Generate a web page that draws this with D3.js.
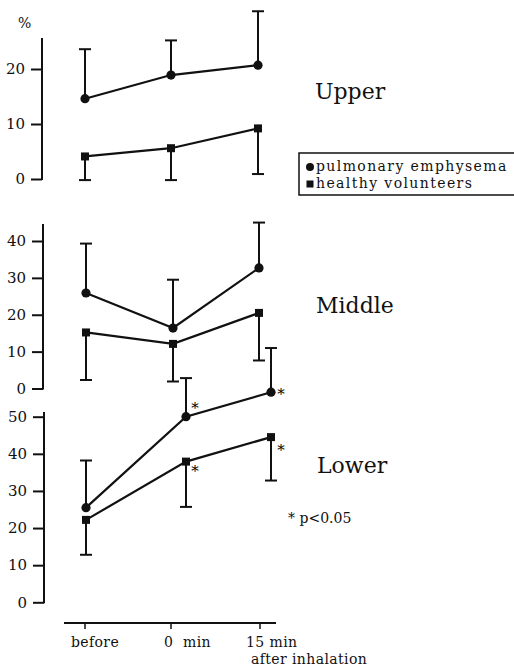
<!DOCTYPE html>
<html>
<head>
<meta charset="utf-8">
<script src="https://cdn.jsdelivr.net/npm/d3@7"></script>
<style>
  body { margin: 0; background: #fff; }
  svg { display: block; }
  text { font-family: "DejaVu Serif", serif; fill: #111; }
</style>
</head>
<body>
<svg width="514" height="667"></svg>
<script>
var times = ["before", "0 min", "15 min"]

var upperEmph = [14.6, 18.9, 20.7]
var upperEmphSD = [9.0, 6.3, 9.8]
var upperHealthy = [4.1, 5.6, 9.2]
var upperHealthySD = [4.3, 5.8, 8.3]

var middleEmph = [25.9, 16.4, 32.7]
var middleEmphSD = [13.4, 13.1, 12.3]
var middleHealthy = [15.2, 12.1, 20.5]
var middleHealthySD = [12.9, 10.2, 12.9]

var lowerEmph = [25.5, 50.0, 56.6]
var lowerEmphSD = [12.7, 10.4, 11.9]
var lowerHealthy = [22.2, 37.9, 44.5]
var lowerHealthySD = [9.4, 12.2, 11.7]

var upperTicks = [0, 10, 20]
var middleTicks = [0, 10, 20, 30, 40]
var lowerTicks = [0, 10, 20, 30, 40, 50]

var legendLabels = ["pulmonary emphysema", "healthy volunteers"]
// significant points in lower panel: [series, time index]
var significant = [[0, 1], [0, 2], [1, 1], [1, 2]]

var svg = d3.select("svg");

var panels = [
    { name: "Upper", emph: upperEmph, emphSD: upperEmphSD, healthy: upperHealthy, healthySD: upperHealthySD,
      ticks: upperTicks, domain: [0, 20], range: [179, 69], axisTop: 38, axisX: 42,
      xs: [85, 171, 258], label: [315, 99] },
    { name: "Middle", emph: middleEmph, emphSD: middleEmphSD, healthy: middleHealthy, healthySD: middleHealthySD,
      ticks: middleTicks, domain: [0, 40], range: [388.5, 241], axisTop: 224, axisX: 43,
      xs: [86, 173, 259], label: [316, 313] },
    { name: "Lower", emph: lowerEmph, emphSD: lowerEmphSD, healthy: lowerHealthy, healthySD: lowerHealthySD,
      ticks: lowerTicks, domain: [0, 50], range: [602.3, 416.7], axisTop: 412, axisX: 44,
      xs: [86, 186, 271], label: [317, 473] }
];

function drawPanel(p, idx) {
    var g = svg.append("g");
    var y = d3.scaleLinear().domain(p.domain).range(p.range);
    var x = d3.scaleOrdinal().domain(times).range(p.xs);

    var yAxis = d3.axisLeft(y).tickValues(p.ticks).tickSize(11).tickPadding(6).tickFormat(d3.format("d"));
    var ag = g.append("g")
        .attr("transform", "translate(" + p.axisX + ",0)")
        .call(yAxis);
    ag.select(".domain").remove();
    ag.selectAll(".tick line").attr("stroke", "#111").attr("stroke-width", 2);
    ag.selectAll(".tick text").style("font-size", "15px").attr("fill", "#111")
        .style("font-family", "DejaVu Serif, serif");
    ag.append("line")
        .attr("x1", 0).attr("x2", 0)
        .attr("y1", p.axisTop).attr("y2", y(0) + 1)
        .attr("stroke", "#111").attr("stroke-width", 2);

    var series = [
        { vals: p.emph, sd: p.emphSD, dir: 1, shape: "circle" },
        { vals: p.healthy, sd: p.healthySD, dir: -1, shape: "square" }
    ];

    var line = d3.line().x((d, i) => x(times[i])).y(d => y(d));

    series.forEach(function(s) {
        // error bars
        s.vals.forEach(function(v, i) {
            var cx = x(times[i]);
            var end = y(v + s.dir * s.sd[i]);
            g.append("line")
                .attr("x1", cx).attr("x2", cx)
                .attr("y1", y(v)).attr("y2", end)
                .attr("stroke", "#111").attr("stroke-width", 2);
            g.append("line")
                .attr("x1", cx - 6).attr("x2", cx + 6)
                .attr("y1", end).attr("y2", end)
                .attr("stroke", "#111").attr("stroke-width", 2);
        });
        g.append("path")
            .attr("d", line(s.vals))
            .attr("fill", "none")
            .attr("stroke", "#111")
            .attr("stroke-width", 2.2);
        s.vals.forEach(function(v, i) {
            if (s.shape == "circle") {
                g.append("circle")
                    .attr("cx", x(times[i])).attr("cy", y(v))
                    .attr("r", 4.6).attr("fill", "#111");
            } else {
                g.append("rect")
                    .attr("x", x(times[i]) - 4).attr("y", y(v) - 4)
                    .attr("width", 8).attr("height", 8).attr("fill", "#111");
            }
        });
    });

    if (idx == 2) {
        // offsets of the star centre from its point: [dx, dy]
        var offs = [[9, -12], [10, -1], [9, 6], [10, 10]];
        significant.forEach(function(sg, k) {
            var s = series[sg[0]];
            g.append("text")
                .attr("x", x(times[sg[1]]) + offs[k][0])
                .attr("y", y(s.vals[sg[1]]) + offs[k][1] + 8)
                .attr("text-anchor", "middle")
                .style("font-size", "15px")
                .style("fill", "#000")
                .text("*");
        });
    }

    g.append("text")
        .attr("x", p.label[0]).attr("y", p.label[1])
        .style("font-size", "22px")
        .text(p.name);
}

panels.forEach(drawPanel);

// percent sign
svg.append("text").attr("x", 18).attr("y", 28).style("font-size", "14px").text("%");

// x axis at the bottom
var xBottom = d3.scaleOrdinal().domain(times).range([85, 171, 260]);
var xg = svg.append("g");
xg.append("line").attr("x1", 64).attr("x2", 276).attr("y1", 623).attr("y2", 623)
    .attr("stroke", "#111").attr("stroke-width", 2);
times.forEach(function(t) {
    xg.append("line").attr("x1", xBottom(t)).attr("x2", xBottom(t))
        .attr("y1", 623).attr("y2", 629).attr("stroke", "#111").attr("stroke-width", 1.5);
});
var lblStyle = function(sel) { return sel.style("font-size", "14px").style("letter-spacing", "0.4px"); };
xg.append("text").attr("x", 95).attr("y", 647).attr("text-anchor", "middle")
    .call(lblStyle).text("before");
xg.append("text").attr("x", 164).attr("y", 647)
    .call(lblStyle).attr("xml:space", "preserve").text("0  min");
xg.append("text").attr("x", 246).attr("y", 647)
    .call(lblStyle).text("15 min");
xg.append("text").attr("x", 251).attr("y", 664)
    .call(lblStyle).text("after inhalation");

// legend
var lg = svg.append("g");
lg.append("rect").attr("x", 299).attr("y", 153).attr("width", 230).attr("height", 42)
    .attr("fill", "none").attr("stroke", "#111").attr("stroke-width", 1.5);
lg.append("circle").attr("cx", 310).attr("cy", 167).attr("r", 4).attr("fill", "#111");
lg.append("rect").attr("x", 306.5).attr("y", 180.5).attr("width", 7).attr("height", 7).attr("fill", "#111");
legendLabels.forEach(function(l, i) {
    lg.append("text").attr("x", 316).attr("y", 171 + i * 17)
        .style("font-size", "14px").style("letter-spacing", "1.4px").text(l);
});

// significance note
svg.append("text").attr("x", 288).attr("y", 523).style("font-size", "14px").text("* p<0.05");
</script>
</body>
</html>
